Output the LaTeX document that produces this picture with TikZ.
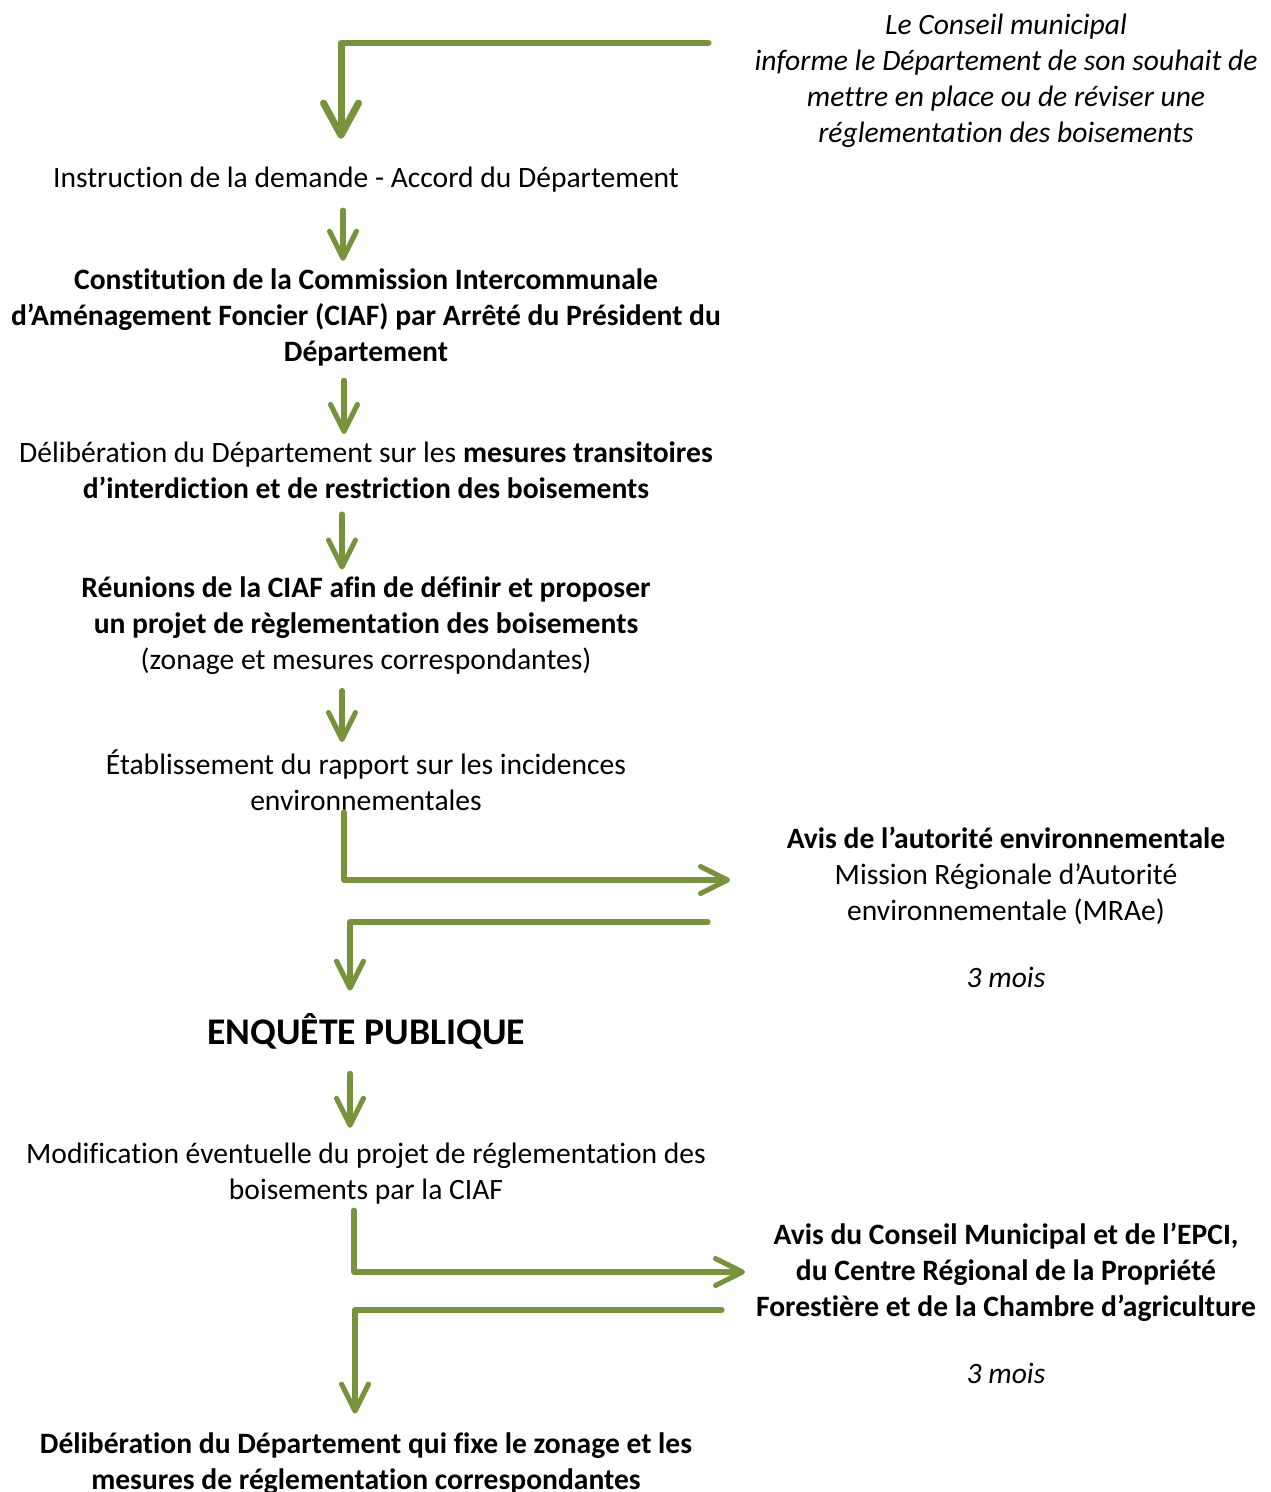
\documentclass[tikz,border=0pt]{standalone}
\usepackage{fontspec}
\setmainfont{Carlito}[Ligatures={NoCommon,NoContextual}]
\usepackage{xcolor}
\definecolor{moss}{HTML}{77933C}
\usetikzlibrary{arrows.meta}
\newlength\pxu
\setlength\pxu{0.372pt}
\tikzset{
  txt/.style={align=center, inner sep=0pt, font=\fontsize{11}{13.4}\selectfont},
  flow/.style={draw=moss, line width=1.9pt, line cap=round, line join=round,
    -{Straight Barb[length=10pt, width=10pt, line cap=round, line join=round]}},
  bigflow/.style={flow, line width=2.6pt,
    -{Straight Barb[length=12pt, width=13pt, line cap=round, line join=round]}},
  down/.style={flow, shorten <=15\pxu, shorten >=7\pxu}
}

\begin{document}
\begin{tikzpicture}[x=\pxu, y=-\pxu]
  % Page
  \useasboundingbox (0,0) rectangle (1270,1492);

  % Left column
  \node[txt] (instr) at (366,180) {Instruction de la demande - Accord du Département};
  \node[txt, font=\fontsize{11}{13.4}\selectfont\bfseries] (ciaf) at (366,317) {
    Constitution de la Commission Intercommunale\\
    d’Aménagement Foncier (CIAF) par Arrêté du Président du\\
    Département};
  \node[txt] (delib) at (366,470) {
    Délibération du Département sur les \textbf{mesures transitoires}\\
    \textbf{d’interdiction et de restriction des boisements}};
  \node[txt] (reunion) at (366,626) {
    \textbf{Réunions de la CIAF afin de définir et proposer}\\
    \textbf{un projet de règlementation des boisements}\\
    (zonage et mesures correspondantes)};
  \node[txt] (rapport) at (366,780) {
    Établissement du rapport sur les incidences\\
    environnementales};
  \node[txt, font=\fontsize{14}{17}\selectfont\bfseries] (enquete) at (366,1031) {ENQUÊTE PUBLIQUE};
  \node[txt] (modif) at (366,1174) {
    Modification éventuelle du projet de réglementation des\\
    boisements par la CIAF};
  \node[txt, font=\fontsize{11}{13.4}\selectfont\bfseries] (final) at (366,1464) {
    Délibération du Département qui fixe le zonage et les\\
    mesures de réglementation correspondantes};

  % Right column
  \node[txt, font=\fontsize{11}{13.4}\selectfont\itshape] (conseil) at (1006,81) {
    Le Conseil municipal\\
    informe le Département de son souhait de\\
    mettre en place ou de réviser une\\
    réglementation des boisements};
  \node[txt] (avis) at (1006,876) {
    \textbf{Avis de l’autorité environnementale}\\
    Mission Régionale d’Autorité\\
    environnementale (MRAe)};
  \node[txt, font=\fontsize{11}{13.4}\selectfont\itshape] (delai) at (1006,977) {3 mois};
  \node[txt, font=\fontsize{11}{13.4}\selectfont\bfseries] (avis2) at (1006,1272) {
    Avis du Conseil Municipal et de l’EPCI,\\
    du Centre Régional de la Propriété\\
    Forestière et de la Chambre d’agriculture};
  \node[txt, font=\fontsize{11}{13.4}\selectfont\itshape] (delai2) at (1006,1373) {3 mois};

  % Free ends
  \coordinate (top) at (708,43);
  \coordinate (avisin) at (730,880);
  \coordinate (avisout) at (708,922);
  \coordinate (avis2in) at (745,1272);
  \coordinate (avis2out) at (722,1310);

  % Arrows
  \draw[bigflow, shorten >=28\pxu] (top) -| ([xshift=-25\pxu]instr.north);
  \draw[down, shorten <=17\pxu] ([xshift=-23\pxu]instr.south) -- ([xshift=-23\pxu]ciaf.north);
  \draw[down, shorten <=14\pxu] ([xshift=-22\pxu]ciaf.south) -- ([xshift=-22\pxu]delib.north);
  \draw[down] ([xshift=-24\pxu]delib.south) -- ([xshift=-24\pxu]reunion.north);
  \draw[down] ([xshift=-24\pxu]reunion.south) -- ([xshift=-24\pxu]rapport.north);
  \draw[flow, shorten <=1\pxu] ([xshift=-22\pxu]rapport.south) |- (avisin);
  \draw[flow, shorten >=22\pxu] (avisout) -| ([xshift=-16\pxu]enquete.north);
  \draw[flow, shorten <=24\pxu, shorten >=15\pxu] ([xshift=-16\pxu]enquete.south) -- ([xshift=-16\pxu]modif.north);
  \draw[flow, shorten <=5\pxu] ([xshift=-12\pxu]modif.south) |- (avis2in);
  \draw[flow, shorten >=19\pxu] (avis2out) -| ([xshift=-11\pxu]final.north);
\end{tikzpicture}
\end{document}
